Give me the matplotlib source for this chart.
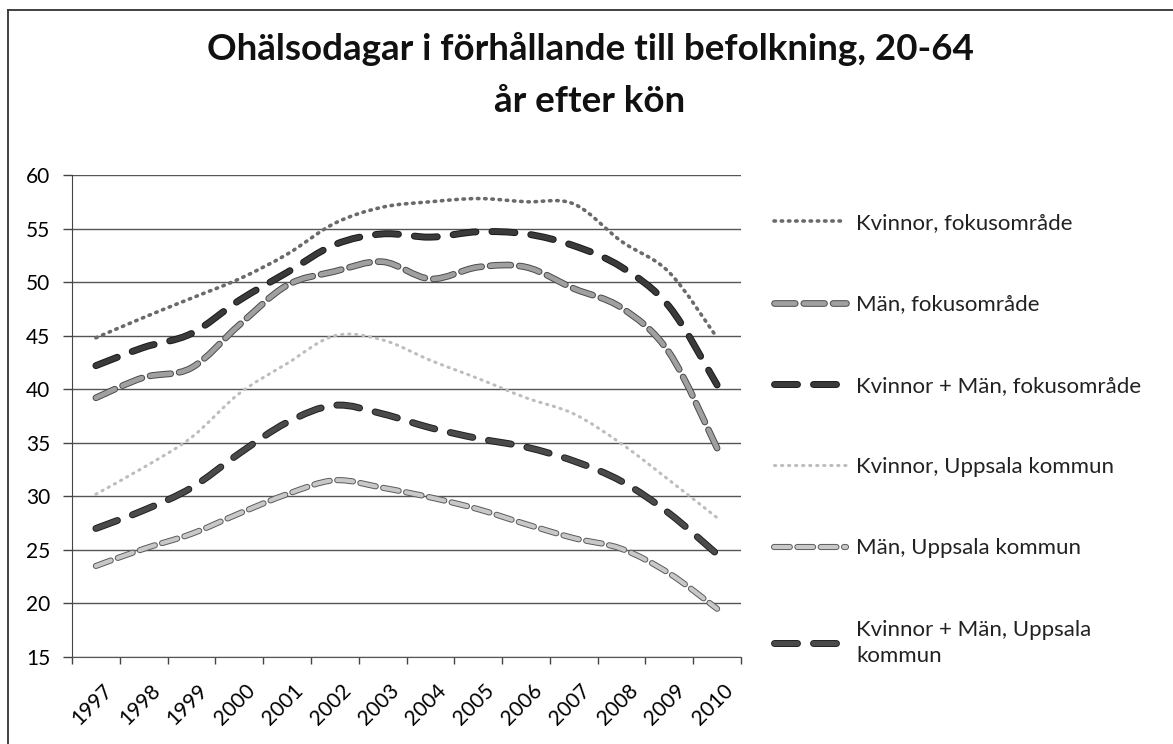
import numpy as np
import matplotlib
matplotlib.use("Agg")
import matplotlib.pyplot as plt
from matplotlib.path import Path
from matplotlib.patches import PathPatch
from matplotlib.lines import Line2D
import matplotlib.patheffects as pe
import matplotlib.transforms as mtransforms

plt.rcParams['font.family'] = ['Lato', 'DejaVu Sans']

years = ["1997", "1998", "1999", "2000", "2001", "2002", "2003",
         "2004", "2005", "2006", "2007", "2008", "2009", "2010"]

kvinnor_fokus = [44.8, 46.7, 48.5, 50.3, 52.6, 55.5, 57.0, 57.5, 57.8, 57.5, 57.3, 53.8, 50.9, 44.8]
man_fokus = [39.2, 41.1, 42.0, 46.0, 49.7, 51.0, 51.9, 50.3, 51.4, 51.4, 49.4, 47.6, 43.4, 34.5]
km_fokus = [42.2, 43.9, 45.2, 48.3, 50.9, 53.5, 54.5, 54.2, 54.7, 54.5, 53.4, 51.4, 47.7, 40.4]
kvinnor_upps = [30.2, 32.7, 35.5, 39.6, 42.4, 45.0, 44.6, 42.7, 41.0, 39.2, 37.7, 34.9, 31.5, 28.0]
man_upps = [23.5, 25.1, 26.5, 28.4, 30.2, 31.5, 30.8, 29.9, 28.8, 27.4, 26.1, 25.1, 22.8, 19.5]
km_upps = [27.0, 28.7, 30.8, 34.0, 36.9, 38.5, 37.7, 36.4, 35.4, 34.6, 33.3, 31.4, 28.4, 24.6]

labels = ["Kvinnor, fokusområde", "Män, fokusområde", "Kvinnor + Män, fokusområde",
          "Kvinnor, Uppsala kommun", "Män, Uppsala kommun", "Kvinnor + Män, Uppsala\nkommun"]
series = [kvinnor_fokus, man_fokus, km_fokus, kvinnor_upps, man_upps, km_upps]

# style: color, linewidth, dashes, outline color (None = no outline)
styles = [
    dict(color="#6a6a6a", lw=2.6, dashes=(0.4, 1.6), outline=None),
    dict(color="#a0a0a0", lw=3.4, dashes=(4.4, 1.8), outline="#4a4a4a"),
    dict(color="#3a3a3a", lw=3.6, dashes=(4.6, 3.2), outline="#1a1a1a"),
    dict(color="#bdbdbd", lw=2.2, dashes=(0.4, 1.9), outline=None),
    dict(color="#c8c8c8", lw=3.0, dashes=(3.8, 1.8), outline="#5a5a5a"),
    dict(color="#4a4a4a", lw=3.6, dashes=(4.6, 3.2), outline="#1f1f1f"),
]


def smooth_path(x, y):
    # Excel-like smoothed line: Catmull-Rom segments as cubic Bezier curves
    x = np.asarray(x, float)
    y = np.asarray(y, float)
    n = len(x)
    verts = [(x[0], y[0])]
    codes = [Path.MOVETO]
    for i in range(n - 1):
        x0, y0 = (x[i - 1], y[i - 1]) if i > 0 else (x[i], y[i])
        x3, y3 = (x[i + 2], y[i + 2]) if i + 2 < n else (x[i + 1], y[i + 1])
        c1 = (x[i] + (x[i + 1] - x0) / 6, y[i] + (y[i + 1] - y0) / 6)
        c2 = (x[i + 1] - (x3 - x[i]) / 6, y[i + 1] - (y3 - y[i]) / 6)
        verts += [c1, c2, (x[i + 1], y[i + 1])]
        codes += [Path.CURVE4] * 3
    return Path(verts, codes)


fig = plt.figure(figsize=(11.73, 7.44), dpi=100)
ax = fig.add_axes([72 / 1173, 1 - 657 / 744, (741 - 72) / 1173, (657 - 175) / 744])

xs = np.arange(len(years))
handles = []
for vals, st, lab in zip(series, styles, labels):
    effects = None
    if st["outline"]:
        effects = [pe.Stroke(linewidth=st["lw"] + 1.4, foreground=st["outline"]), pe.Normal()]
    patch = PathPatch(smooth_path(xs, vals), fill=False, edgecolor=st["color"],
                      lw=st["lw"], capstyle="round", zorder=3)
    patch.set_linestyle((0, st["dashes"]))
    if effects:
        patch.set_path_effects(effects)
    ax.add_patch(patch)
    h = Line2D([], [], color=st["color"], lw=st["lw"], dashes=st["dashes"],
               solid_capstyle="round", dash_capstyle="round")
    if effects:
        h.set_path_effects(effects)
    handles.append(h)

ax.set_xlim(-0.5, len(years) - 0.5)
ax.set_ylim(15, 60)
ax.set_yticks(np.arange(15, 61, 5))
ax.yaxis.grid(True, color="#555555", lw=1.0)
ax.set_axisbelow(True)

ax.set_xticks(np.arange(-0.5, len(years)), labels=[])
ax.set_xticks(xs, labels=years, minor=True)
ax.tick_params(axis="x", which="major", length=5, width=1, color="#444444")
ax.tick_params(axis="x", which="minor", length=0, pad=17, labelsize=15)
shift = mtransforms.ScaledTranslation(6 / 100, 0, fig.dpi_scale_trans)
for t in ax.get_xticklabels(minor=True):
    t.set_rotation(45)
    t.set_ha("right")
    t.set_rotation_mode("anchor")
    t.set_transform(t.get_transform() + shift)
ax.tick_params(axis="y", length=6.5, width=1, color="#444444", labelsize=15, pad=9)

for s in ["top", "right"]:
    ax.spines[s].set_visible(False)
ax.spines["left"].set_color("#444444")
ax.spines["bottom"].set_color("#555555")

fig.text(0.503, 1 - 49 / 744, "Ohälsodagar i förhållande till befolkning, 20-64",
         ha="center", va="center", fontsize=26.5, fontweight="bold", color="#111111")
fig.text(0.503, 1 - 101 / 744, "år efter kön",
         ha="center", va="center", fontsize=26.5, fontweight="bold", color="#111111")

leg = fig.legend(handles, labels, loc="upper left", bbox_to_anchor=(754 / 1173, 1 - 193 / 744),
                 frameon=False, fontsize=16, handlelength=3.25, handletextpad=0.45,
                 labelspacing=2.76)
for t in leg.get_texts():
    t.set_color("#222222")
    t.set_linespacing(1.4)

# outer chart border (left and top edges visible in the scan)
fig.add_artist(Line2D([8 / 1173, 8 / 1173], [0, 1 - 10 / 744], color="#333333", lw=1.3,
                      transform=fig.transFigure))
fig.add_artist(Line2D([8 / 1173, 1], [1 - 10 / 744, 1 - 10 / 744], color="#333333", lw=1.3,
                      transform=fig.transFigure))

fig.savefig("out.png", dpi=100)
